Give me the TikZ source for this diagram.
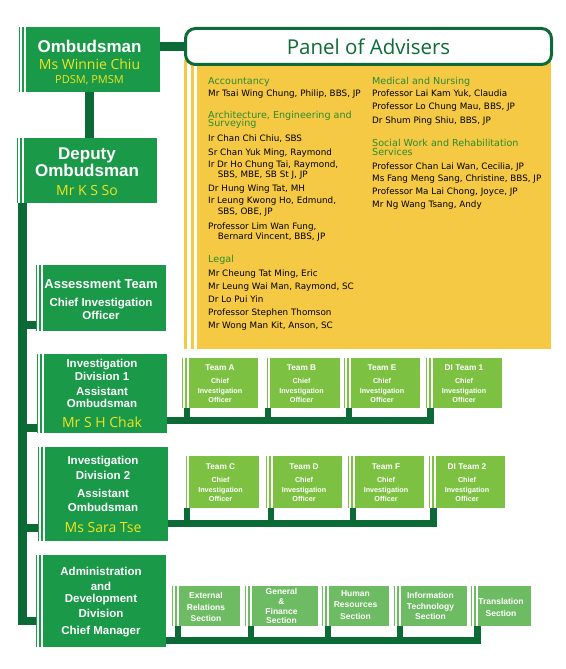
\documentclass[tikz,border=0pt]{standalone}
\usepackage{fontspec}
\setmainfont{Liberation Sans}
\newfontfamily\namefont{Open Sans}
\newfontfamily\listfont{DejaVu Sans}

\definecolor{boxgreen}{HTML}{1A9948}
\definecolor{linkgreen}{HTML}{0B6A36}
\definecolor{teamgreen}{HTML}{7CC142}
\definecolor{sectgreen}{HTML}{6DBB62}
\definecolor{panelyellow}{HTML}{F5C944}
\definecolor{nameyellow}{HTML}{F2E41E}
\definecolor{headgreen}{HTML}{2A8C2E}
\definecolor{titlegreen}{HTML}{0E6B37}

\newcommand{\yname}[2]{{\namefont\mdseries\fontsize{#1}{#1}\selectfont\color{nameyellow}#2}}

\begin{document}
\begin{tikzpicture}[x=1pt,y=-1pt]
    \tikzstyle{stripes}=[path picture={
        \fill[white] ([xshift=0.5pt]path picture bounding box.south west) rectangle ([xshift=3pt]path picture bounding box.north west);
        \fill[white] ([xshift=4.5pt]path picture bounding box.south west) rectangle ([xshift=6.5pt]path picture bounding box.north west);
    }]
    \tikzstyle{panel stripes}=[path picture={
        \fill[white] ([xshift=3.3pt]path picture bounding box.south west) rectangle ([xshift=6.7pt]path picture bounding box.north west);
        \fill[white] ([xshift=10.3pt]path picture bounding box.south west) rectangle ([xshift=13.3pt]path picture bounding box.north west);
    }]
    \tikzstyle{box}=[rectangle, inner sep=0pt, align=center, text=white, text depth=0pt, stripes]
    \tikzstyle{main box}=[box, fill=boxgreen, minimum width=130pt, font=\bfseries\fontsize{11.5}{13}\selectfont]
    \tikzstyle{head box}=[main box, minimum height=65pt, text height=49pt, font=\bfseries\fontsize{17}{17}\selectfont]
    \tikzstyle{team box}=[box, fill=teamgreen, minimum width=76pt, text height=39.4pt, font=\bfseries\fontsize{7.2}{9.4}\selectfont]
    \tikzstyle{section box}=[box, fill=sectgreen, minimum height=40pt, font=\bfseries\fontsize{8.5}{11}\selectfont]
    \tikzstyle{panel box}=[rectangle, fill=panelyellow, inner sep=0pt, minimum width=367pt, minimum height=289pt, panel stripes]
    \tikzstyle{title box}=[rectangle, rounded corners=10pt, draw=titlegreen, line width=3pt, fill=white, minimum width=366pt, minimum height=36pt, text=titlegreen, font=\namefont\fontsize{20.5}{20.5}\selectfont]
    \tikzstyle{member}=[anchor=base west, inner sep=0pt, font=\listfont\fontsize{8.8}{10}\selectfont]
    \tikzstyle{field}=[member, text=headgreen, font=\listfont\fontsize{9.6}{10}\selectfont]
    \tikzstyle{link}=[draw=linkgreen, line width=8.5pt]
    \tikzstyle{bar}=[draw=linkgreen, line width=7pt]
    \tikzstyle{stub}=[draw=linkgreen, line width=6pt]

    \useasboundingbox (0,0) rectangle (565,669);

    % Draw the panel of advisers
    \node[panel box] (panel) at (367.5,204.5) {};
    \node[title box] (advisers) at (368.5,46.5) {Panel of Advisers};

    % Fields of the panel
    \foreach \x / \y / \txt [count=\i] in {208/84.2/Accountancy, 208/118.5/{Architecture, Engineering and},
        208/126.8/Surveying, 208/262.8/Legal, 372/84.2/Medical and Nursing,
        372/146.2/Social Work and Rehabilitation, 372/155.2/Services}
        \node[field] (field-\i) at (\x,\y) {\txt};

    % Members of the panel
    \foreach \x / \y / \txt [count=\i] in {208/96/{Mr Tsai Wing Chung, Philip, BBS, JP},
        208/141/{Ir Chan Chi Chiu, SBS}, 208/155/{Sr Chan Yuk Ming, Raymond},
        208/167.5/{Ir Dr Ho Chung Tai, Raymond,}, 217.7/177.3/{SBS, MBE, SB St J, JP},
        208/191/{Dr Hung Wing Tat, MH}, 208/203.3/{Ir Leung Kwong Ho, Edmund,},
        217.7/214.5/{SBS, OBE, JP}, 208/229/{Professor Lim Wan Fung,},
        217.7/239/{Bernard Vincent, BBS, JP}, 208/276/{Mr Cheung Tat Ming, Eric},
        208/289/{Mr Leung Wai Man, Raymond, SC}, 208/302/{Dr Lo Pui Yin},
        208/315/{Professor Stephen Thomson}, 208/328/{Mr Wong Man Kit, Anson, SC},
        372/96.3/{Professor Lai Kam Yuk, Claudia}, 372/109.7/{Professor Lo Chung Mau, BBS, JP},
        372/123/{Dr Shum Ping Shiu, BBS, JP}, 372/169/{Professor Chan Lai Wan, Cecilia, JP},
        372/181/{Ms Fang Meng Sang, Christine, BBS, JP}, 372/194/{Professor Ma Lai Chong, Joyce, JP},
        372/207/{Mr Ng Wang Tsang, Andy}}
        \node[member] (member-\i) at (\x,\y) {\txt};

    % Draw the main boxes
    \node[head box, minimum width=141pt] (omb) at (89.5,59.5)
        {Ombudsman\\[1pt]\yname{14}{Ms Winnie Chiu}\\[-3pt]\yname{11}{PDSM, PMSM}};
    \node[head box, minimum width=140pt] (dep) at (87,170.5)
        {Deputy\\Ombudsman\\[2pt]\yname{14}{Mr K S So}};
    \node[main box, minimum height=66pt, text height=42pt] (assess) at (101,298)
        {{\fontsize{13}{13}\selectfont Assessment Team}\\[4.3pt]Chief Investigation\\Officer};
    \node[main box, minimum height=79pt, text height=67.6pt] (id1) at (102,393.5)
        {Investigation\\Division 1\\[2pt]Assistant\\[-0.3pt]Ombudsman\\[6.6pt]\yname{14}{Mr S H Chak}};
    \node[main box, minimum height=94pt, text height=77.2pt] (id2) at (103,494)
        {Investigation\\[1.5pt]Division 2\\[5pt]Assistant\\[1.4pt]Ombudsman\\[7.8pt]\yname{14}{Ms Sara Tse}};
    \node[main box, minimum height=92pt, text height=67pt] (admin) at (101,601)
        {Administration\\[1.3pt]and\\[-1pt]Development\\[2pt]Division\\[4.5pt]Chief Manager};

    % Draw the teams of division 1
    \foreach \name / \x / \txt in {A/220/Team A, B/301.5/Team B, E/382/Team E, DI1/464/DI Team 1}
        \node[team box, minimum height=50pt] (team-\name) at (\x,383)
            {{\fontsize{8.3}{8.3}\selectfont\txt}\\[3.9pt]Chief\\Investigation\\Officer};

    % Draw the teams of division 2
    \foreach \name / \x / \txt in {C/220.5/Team C, D/304/Team D, F/386/Team F, DI2/467/DI Team 2}
        \node[team box, minimum height=52pt] (team-\name) at (\x,482)
            {{\fontsize{8.3}{8.3}\selectfont\txt}\\[3.9pt]Chief\\Investigation\\Officer};

    % Draw the sections of the administration
    \foreach \name / \x / \boxw / \boxh / \txt in {ext/206/68/30.6/{External\\[0.3pt]Relations\\[0.3pt]Section},
        fin/281.5/73/35.6/{General\\[-1.3pt]\&\\[-1.3pt]Finance\\[-1.3pt]Section},
        hr/355.5/67/27/{Human\\[0.7pt]Resources\\[0.7pt]Section},
        it/430.5/73/27/{Information\\[-0.5pt]Technology\\[-0.5pt]Section},
        tr/501/60/20/{Translation\\[1pt]Section}}
        \node[section box, minimum width=\boxw pt, text height=\boxh pt] (sect-\name) at (\x,606) {\txt};

    % Connect the ombudsman with the panel and the deputy
    \draw[link] (omb.east |- advisers.west) -- (advisers.west);
    \draw[link] (omb.south) -- (omb.south |- dep.north);

    % Connect the deputy with every division
    \coordinate (trunk) at ([xshift=5.5pt]dep.south west);
    \coordinate (admin-in) at ([yshift=26pt]admin.south west);
    \draw[link] (trunk) |- (admin-in);
    \foreach \name / \dy in {assess/6, id1/5, id2/13} {
        \coordinate (\name-in) at ([yshift=\dy pt]\name.south west);
        \draw[link] (trunk |- \name-in) -- (\name-in);
    }

    % Connect the divisions with their teams
    \coordinate (id1-bar) at ([yshift=12.5pt]id1.south east);
    \coordinate (id2-bar) at ([yshift=17.5pt]id2.south east);
    \coordinate (admin-bar) at ([yshift=7pt]admin.south east);
    \foreach \name in {A,B,E,DI1,C,D,F,DI2}
        \coordinate (team-\name-foot) at ([xshift=5pt]team-\name.south west);
    \foreach \name in {ext,fin,hr,it,tr}
        \coordinate (sect-\name-foot) at ([xshift=6.5pt]sect-\name.south west);
    \draw[bar] (id1-bar) -| (team-DI1-foot);
    \draw[bar] (id2-bar) -| (team-DI2-foot);
    \draw[bar] (admin-bar) -| (sect-tr-foot);
    \foreach \name in {A,B,E}
        \draw[stub] (team-\name-foot) -- (team-\name-foot |- id1-bar);
    \foreach \name in {C,D,F}
        \draw[stub] (team-\name-foot) -- (team-\name-foot |- id2-bar);
    \foreach \name in {ext,fin,hr,it}
        \draw[stub] (sect-\name-foot) -- (sect-\name-foot |- admin-bar);

\end{tikzpicture}
\end{document}
